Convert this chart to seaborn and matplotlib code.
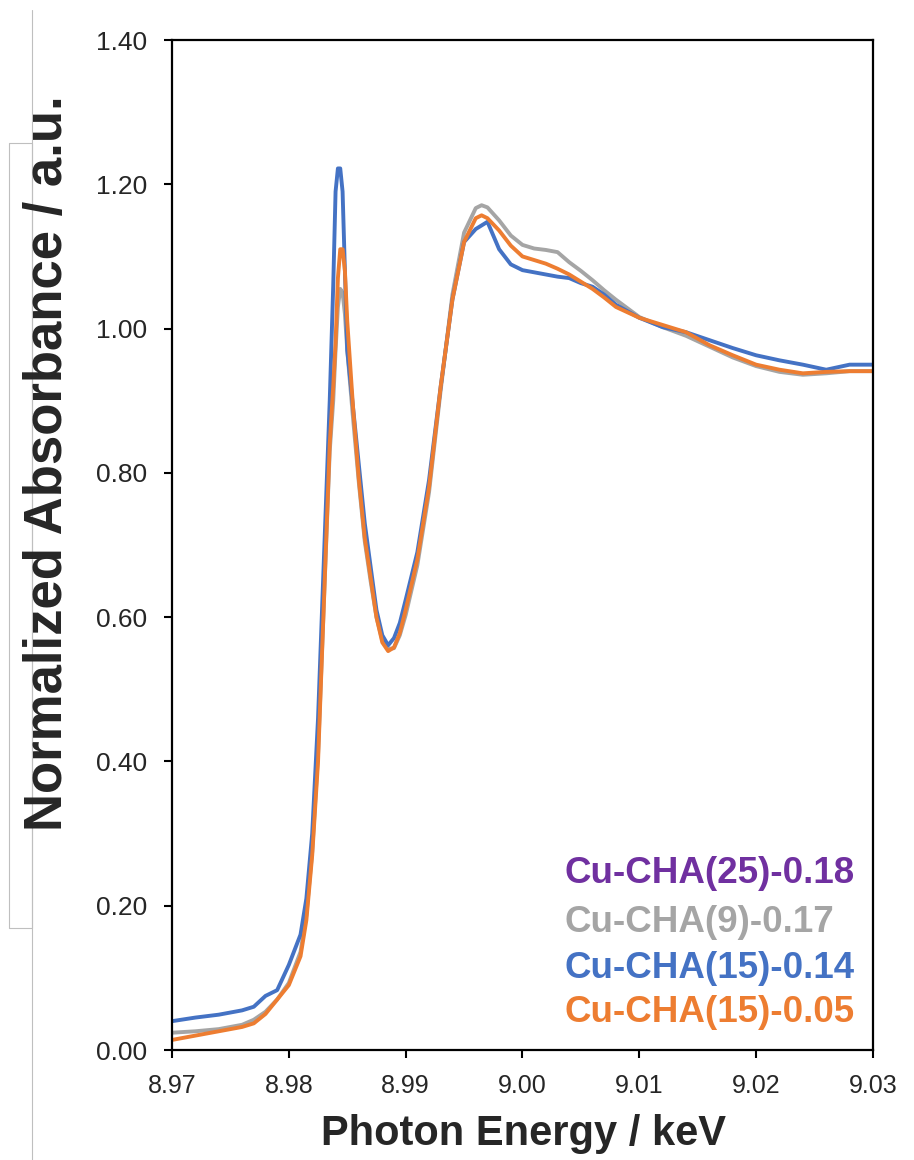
import numpy as np
import pandas as pd
import matplotlib.pyplot as plt
import matplotlib.lines as mlines
import seaborn as sns

# Data (Cu K-edge XANES)
energy = [8.970, 8.972, 8.974, 8.976, 8.977, 8.978, 8.979, 8.980, 8.981, 8.9815,
          8.982, 8.9825, 8.983, 8.9835, 8.9838, 8.984, 8.9842, 8.9844, 8.9846, 8.9848,
          8.985, 8.9855, 8.986, 8.9865, 8.987, 8.9875, 8.988, 8.9885, 8.989, 8.9895,
          8.990, 8.991, 8.992, 8.993, 8.994, 8.995, 8.996, 8.9965, 8.997, 8.998,
          8.999, 9.000, 9.001, 9.002, 9.003, 9.004, 9.005, 9.006, 9.007, 9.008,
          9.010, 9.012, 9.014, 9.016, 9.018, 9.020, 9.022, 9.024, 9.026, 9.028, 9.030]

cha9_017 = [0.024, 0.026, 0.029, 0.035, 0.042, 0.053, 0.070, 0.093, 0.136, 0.187,
            0.275, 0.410, 0.620, 0.830, 0.900, 0.970, 1.030, 1.055, 1.050, 1.020,
            0.970, 0.875, 0.785, 0.705, 0.650, 0.600, 0.568, 0.556, 0.557, 0.575,
            0.603, 0.672, 0.773, 0.915, 1.047, 1.133, 1.167, 1.171, 1.168, 1.150,
            1.129, 1.116, 1.111, 1.109, 1.106, 1.092, 1.080, 1.067, 1.053, 1.040,
            1.016, 1.002, 0.990, 0.975, 0.960, 0.948, 0.940, 0.936, 0.938, 0.941, 0.941]

cha15_014 = [0.040, 0.045, 0.049, 0.055, 0.060, 0.075, 0.083, 0.118, 0.160, 0.210,
             0.300, 0.460, 0.680, 0.900, 1.060, 1.190, 1.222, 1.222, 1.190, 1.080,
             0.970, 0.890, 0.810, 0.730, 0.670, 0.610, 0.575, 0.561, 0.571, 0.592,
             0.624, 0.690, 0.790, 0.920, 1.040, 1.120, 1.138, 1.143, 1.148, 1.110,
             1.089, 1.081, 1.078, 1.075, 1.072, 1.070, 1.063, 1.058, 1.047, 1.033,
             1.015, 1.002, 0.995, 0.984, 0.973, 0.963, 0.956, 0.950, 0.943, 0.950, 0.950]

cha15_005 = [0.014, 0.020, 0.026, 0.032, 0.037, 0.050, 0.070, 0.090, 0.130, 0.180,
             0.270, 0.400, 0.620, 0.840, 0.920, 0.980, 1.070, 1.110, 1.110, 1.080,
             1.010, 0.890, 0.790, 0.710, 0.655, 0.600, 0.565, 0.553, 0.558, 0.578,
             0.610, 0.680, 0.780, 0.920, 1.040, 1.120, 1.153, 1.157, 1.153, 1.136,
             1.115, 1.100, 1.095, 1.090, 1.083, 1.075, 1.065, 1.055, 1.043, 1.030,
             1.015, 1.005, 0.995, 0.977, 0.963, 0.950, 0.943, 0.938, 0.940, 0.941, 0.941]

labels = ['Cu-CHA(25)-0.18', 'Cu-CHA(9)-0.17', 'Cu-CHA(15)-0.14', 'Cu-CHA(15)-0.05']
colors = ['#7030A0', '#A5A5A5', '#4472C4', '#ED7D31']
x_ticks = [8.97, 8.98, 8.99, 9.00, 9.01, 9.02, 9.03]
y_ticks = [0.0, 0.2, 0.4, 0.6, 0.8, 1.0, 1.2, 1.4]

sns.set_style('ticks')
plt.rcParams['font.family'] = ['Liberation Sans', 'DejaVu Sans']

fig = plt.figure(figsize=(9.14, 11.6), dpi=100)
ax = fig.add_axes([0.1882, 0.0948, 0.7669, 0.8707])

n = len(energy)
df = pd.DataFrame({'energy': energy * 3,
                   'absorbance': cha9_017 + cha15_014 + cha15_005,
                   'sample': [labels[1]] * n + [labels[2]] * n + [labels[3]] * n})
for name, col in zip(labels[1:], colors[1:]):
    sub = df[df['sample'] == name]
    sns.lineplot(data=sub, x='energy', y='absorbance', color=col, linewidth=2.8, ax=ax, legend=False)

ax.set_xlim(8.97, 9.03)
ax.set_ylim(0, 1.4)
ax.set_xticks(x_ticks)
ax.set_yticks(y_ticks)
ax.set_xticklabels([f'{v:.2f}' for v in x_ticks], fontsize=18)
ax.set_yticklabels([f'{v:.2f}' for v in y_ticks], fontsize=19)
ax.tick_params(axis='both', direction='out', length=6, width=1.5, color='black', labelcolor='#262626')
ax.tick_params(axis='y', pad=12)
ax.tick_params(axis='x', pad=11)
ax.set_xlabel('')
ax.set_ylabel('')
for s in ax.spines.values():
    s.set_visible(True)
    s.set_color('black')
    s.set_linewidth(1.6)

fig.text(0.573, 0.0225, 'Photon Energy / keV', fontsize=30, fontweight='bold', ha='center', va='center')
fig.text(0.052, 0.601, 'Normalized Absorbance / a.u.', fontsize=38, fontweight='bold',
         rotation=90, ha='center', va='center')

# sample labels
base_y = [0.1653, 0.1168, 0.0713, 0.0277]
for lab, col, yy in zip(labels, colors, base_y):
    ax.text(0.5606, yy, lab, color=col, fontsize=26.5, fontweight='bold',
            transform=ax.transAxes, ha='left', va='baseline')

# thin grey bracket at the left edge
W, H = 914, 1160
pts = [(31.7, 0), (31.7, 1017), (9, 1017), (9, 232), (31.7, 232), (31.7, 1150)]
xs = [p[0] / W for p in pts]
ys = [p[1] / H for p in pts]
fig.add_artist(mlines.Line2D(xs, ys, color='#BFBFBF', linewidth=0.8, transform=fig.transFigure))

fig.savefig('out.png', dpi=100, facecolor='white')
